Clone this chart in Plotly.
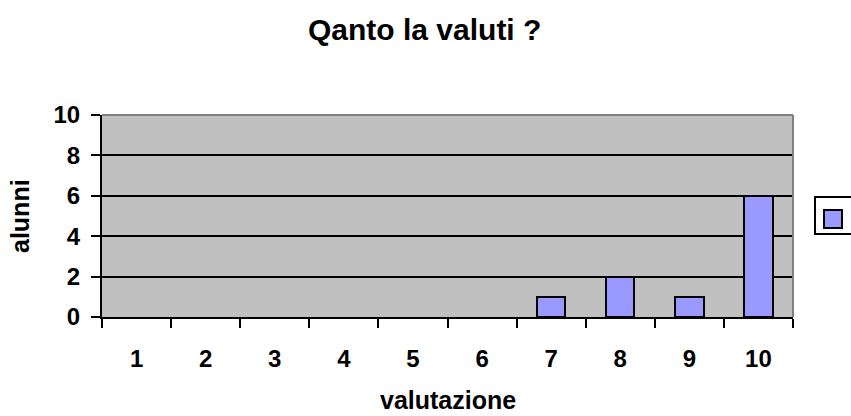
import plotly.graph_objects as go

categories = ["1", "2", "3", "4", "5", "6", "7", "8", "9", "10"]
alunni = [0, 0, 0, 0, 0, 0, 1, 2, 1, 6]
y_ticks = [0, 2, 4, 6, 8, 10]

title_text = "Qanto la valuti ?"
x_title = "valutazione"
y_title = "alunni"

FONT = "Liberation Sans, Arial, sans-serif"
BAR = "#9999ff"

x_pos = [int(c) for c in categories]

fig = go.Figure()
fig.add_trace(go.Bar(
    x=x_pos, y=alunni, width=0.41,
    marker=dict(color=BAR, line=dict(color="black",
                                     width=[2 if v else 0 for v in alunni])),
    showlegend=False,
))

W, H = 851, 416
L, R, T, B = 102, 58, 115, 99
pw = W - L - R
ph = H - T - B

def px_x(p):
    return (p - L) / pw

def px_y(p):
    return (H - B - p) / ph

fig.update_layout(
    width=W, height=H,
    margin=dict(l=L, r=R, t=T, b=B, pad=0),
    paper_bgcolor="white",
    plot_bgcolor="#c0c0c0",
    font=dict(family=FONT, color="black", size=24, weight="bold"),
    bargap=0,
    xaxis=dict(
        range=[0.5, 10.5], tickmode="array", tickvals=x_pos, ticktext=categories,
        showline=True, linecolor="black", linewidth=2,
        ticks="", showgrid=False, zeroline=False,
        minor=dict(tickmode="linear", tick0=0.5, dtick=1, ticks="outside",
                   ticklen=9, tickwidth=2, tickcolor="black", showgrid=False),
        tickfont=dict(size=24, family=FONT, weight="bold"),
        ticklabelstandoff=19,
    ),
    yaxis=dict(
        range=[0, 10], tickvals=y_ticks,
        showline=True, linecolor="black", linewidth=2,
        ticks="outside", ticklen=9, tickwidth=2, tickcolor="black",
        showgrid=True, gridcolor="black", gridwidth=2,
        zeroline=False,
        tickfont=dict(size=24, family=FONT, weight="bold"),
        ticklabelstandoff=6,
    ),
    annotations=[
        dict(text=title_text, xref="paper", yref="paper",
             x=px_x(424), y=px_y(29), xanchor="center", yanchor="middle",
             showarrow=False, font=dict(size=30, family=FONT, weight="bold")),
        dict(text=x_title, xref="paper", yref="paper",
             x=px_x(448), y=px_y(416), xanchor="center", yanchor="bottom",
             showarrow=False, font=dict(size=25, family=FONT, weight="bold")),
        dict(text=y_title, xref="paper", yref="paper", textangle=-90,
             x=px_x(20), y=px_y(216), xanchor="center", yanchor="middle",
             showarrow=False, font=dict(size=25, family=FONT, weight="bold")),
    ],
    shapes=[
        # gray plot-area border on top and right
        dict(type="line", xref="paper", yref="paper", x0=0, x1=1, y0=1, y1=1,
             line=dict(color="#808080", width=2), layer="above"),
        dict(type="line", xref="paper", yref="paper", x0=1, x1=1, y0=0, y1=1,
             line=dict(color="#808080", width=2), layer="above"),
        # legend box (cut off at the right edge, as in the original)
        dict(type="rect", xref="paper", yref="paper",
             x0=px_x(815), x1=px_x(860), y0=px_y(234), y1=px_y(197),
             fillcolor="white", line=dict(color="black", width=2), layer="above"),
        dict(type="rect", xref="paper", yref="paper",
             x0=px_x(824), x1=px_x(842), y0=px_y(228), y1=px_y(210),
             fillcolor=BAR, line=dict(color="black", width=2), layer="above"),
    ],
)

fig.write_html("out.html", config={"displayModeBar": False},
               post_script="document.body.style.margin='0';")
